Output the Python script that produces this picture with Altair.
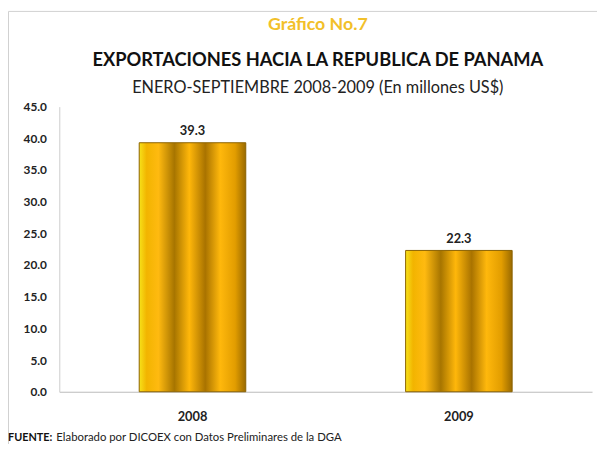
import altair as alt
import pandas as pd

years = ["2008", "2009"]
values = [39.3, 22.3]
y_ticks = [0, 5, 10, 15, 20, 25, 30, 35, 40, 45]

title_top = "Gráfico No.7"
title_main = "EXPORTACIONES HACIA LA REPUBLICA DE PANAMA"
title_sub = "ENERO-SEPTIEMBRE 2008-2009 (En millones US$)"
source_bold = "FUENTE:"
source_text = "Elaborado por DICOEX con Datos Preliminares de la DGA"

df = pd.DataFrame({"year": years, "value": values})
FONT = "Lato"
W, H = 540, 289

gold = alt.Gradient(
    gradient="linear", x1=0, x2=1, y1=0, y2=0,
    stops=[
        alt.GradientStop(color="#f7e21a", offset=0.0),
        alt.GradientStop(color="#f2b400", offset=0.07),
        alt.GradientStop(color="#ffba10", offset=0.18),
        alt.GradientStop(color="#a77500", offset=0.33),
        alt.GradientStop(color="#ffb70a", offset=0.47),
        alt.GradientStop(color="#a97300", offset=0.62),
        alt.GradientStop(color="#ffb80c", offset=0.76),
        alt.GradientStop(color="#e29d00", offset=0.9),
        alt.GradientStop(color="#9a6a00", offset=1.0),
    ],
)

base = alt.Chart(df)

x_enc = alt.X("year:N", title=None,
              scale=alt.Scale(paddingInner=0.6, paddingOuter=0.3),
              axis=alt.Axis(labelAngle=0, labelFontSize=13, labelFontWeight="bold",
                            labelColor="#222", labelFont=FONT, ticks=False,
                            domainColor="#bbbbbb", labelPadding=19))
y_enc = alt.Y("value:Q", title=None,
              scale=alt.Scale(domain=[0, 45], nice=False),
              axis=alt.Axis(values=y_ticks, format=".1f", grid=False, ticks=False,
                            labelOverlap=False,
                            labelFontSize=12, labelFontWeight="bold", labelColor="#222",
                            labelFont=FONT, domainColor="#cccccc", labelPadding=13))

bars = base.mark_bar(fill=gold, stroke="#8a6200", strokeWidth=1).encode(x=x_enc, y=y_enc)
labels = base.mark_text(dy=-12, fontSize=13, fontWeight="bold", font=FONT, color="#222").encode(
    x=x_enc, y=y_enc, text=alt.Text("value:Q", format=".1f"))

txt = pd.DataFrame({"t": [title_top, title_main, title_sub, source_bold, source_text]})

def text_mark(i, x, y, size, weight, color, align="center"):
    return alt.Chart(txt.iloc[[i]]).mark_text(
        fontSize=size, fontWeight=weight, font=FONT, color=color, align=align, baseline="middle"
    ).encode(x=alt.value(x), y=alt.value(y), text="t:N")

t1 = text_mark(0, 262, -83, 18, "bold", "#f2c02a")
t2 = text_mark(1, 262, -47, 18.5, "bold", "#111111")
t3 = text_mark(2, 262, -19, 16.5, "normal", "#222222")
t4 = text_mark(3, -52, 336, 11, "bold", "#111111", "left")
t5 = text_mark(4, -3, 336, 11.5, "normal", "#222222", "left")

frame = alt.Chart(txt.iloc[[0]]).mark_rect(fill=None, stroke="#d0d0d0", strokeWidth=1).encode(
    x=alt.value(-51.5), x2=alt.value(W + 20), y=alt.value(-96.5), y2=alt.value(H + 60))

chart = alt.layer(frame, bars, labels, t1, t2, t3, t4, t5).properties(
    width=W, height=H,
    padding={"left": 52, "top": 97, "right": 5, "bottom": 50},
    autosize=alt.AutoSizeParams(type="none"),
    background="white",
).configure_view(stroke=None)

chart.save("out.html", embed_options={"renderer": "svg", "actions": False})
